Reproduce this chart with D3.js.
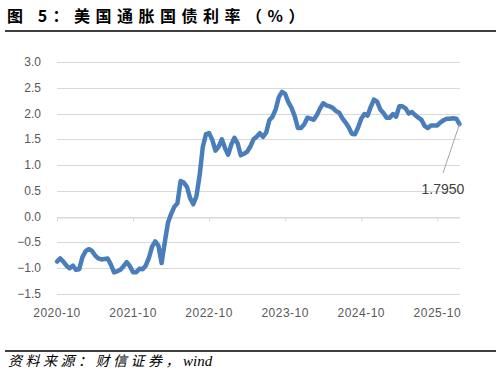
<!DOCTYPE html>
<html>
<head>
<meta charset="utf-8">
<script src="https://cdn.jsdelivr.net/npm/d3@7"></script>
<style>
  body { margin: 0; background: #fff; }
  svg { display: block; }
</style>
</head>
<body>
<script>
// half-month observations starting 2020-10
var values = [
  -0.87, -0.81, -0.87, -0.95, -1.00, -0.95, -1.03, -1.02, -0.79, -0.67,
  -0.63, -0.66, -0.75, -0.81, -0.83, -0.82, -0.81, -0.93, -1.08, -1.06,
  -1.03, -0.96, -0.88, -0.96, -1.08, -1.08, -1.01, -1.02, -0.95, -0.80,
  -0.58, -0.48, -0.56, -0.90, -0.50, -0.12, 0.05, 0.19, 0.26, 0.69,
  0.66, 0.58, 0.36, 0.24, 0.40, 0.80, 1.35, 1.60, 1.62, 1.49,
  1.28, 1.36, 1.50, 1.33, 1.20, 1.40, 1.53, 1.42, 1.19, 1.22,
  1.26, 1.36, 1.50, 1.55, 1.62, 1.55, 1.63, 1.87, 1.94, 2.08,
  2.32, 2.42, 2.38, 2.22, 2.11, 1.95, 1.72, 1.72, 1.79, 1.92,
  1.90, 1.88, 1.97, 2.10, 2.20, 2.16, 2.14, 2.11, 2.05, 2.02,
  1.91, 1.83, 1.74, 1.61, 1.60, 1.73, 1.90, 1.99, 1.96, 2.13,
  2.27, 2.23, 2.08, 2.01, 1.92, 1.92, 1.99, 1.94, 2.14, 2.14,
  2.10, 2.00, 2.03, 1.97, 1.92, 1.88, 1.76, 1.72, 1.77, 1.77,
  1.77, 1.83, 1.87, 1.90, 1.90, 1.91, 1.90, 1.795
];
var tickIndex = [0, 24, 48, 72, 96, 120];
var tickLabels = ["2020-10", "2021-10", "2022-10", "2023-10", "2024-10", "2025-10"];
var yTicks = [-1.5, -1.0, -0.5, 0.0, 0.5, 1.0, 1.5, 2.0, 2.5, 3.0];
var lastLabel = "1.7950";

var W = 501, H = 375;
var svg = d3.select("body").append("svg")
    .attr("width", W)
    .attr("height", H);
svg.append("rect").attr("width", W).attr("height", H).attr("fill", "#fff");

// title + rules
svg.append("text")
    .attr("x", 7)
    .attr("y", 22)
    .attr("font-family", "'Noto Sans CJK SC', sans-serif")
    .attr("font-weight", "bold")
    .attr("font-size", 16)
    .attr("letter-spacing", 5.5)
    .attr("fill", "#000")
    .text("图 5：美国通胀国债利率（%）");
svg.append("line")
    .attr("x1", 5).attr("x2", 496)
    .attr("y1", 31).attr("y2", 31)
    .attr("stroke", "#000").attr("stroke-width", 1.5);
svg.append("line")
    .attr("x1", 5).attr("x2", 496)
    .attr("y1", 351).attr("y2", 351)
    .attr("stroke", "#000").attr("stroke-width", 1.5);
var src = svg.append("text")
    .attr("x", 8)
    .attr("y", 366)
    .attr("font-family", "'Liberation Serif', 'Noto Sans CJK SC', serif")
    .attr("font-style", "italic")
    .attr("font-size", 14)
    .attr("fill", "#000");
src.append("tspan").attr("letter-spacing", 3.5).text("资料来源：财信证券，");
src.append("tspan").attr("font-size", 15).text("wind");

var x = d3.scaleLinear()
    .domain([0, 127])
    .range([57, 459.5]);
var y = d3.scaleLinear()
    .domain([-1.5, 3.0])
    .range([294, 62]);

// grid
svg.append("g")
    .selectAll("line")
    .data(yTicks)
    .enter()
    .append("line")
    .attr("x1", 57).attr("x2", 460)
    .attr("y1", function (d) { return Math.round(y(d)) + 0.5; })
    .attr("y2", function (d) { return Math.round(y(d)) + 0.5; })
    .attr("stroke", "#d9d9d9")
    .attr("stroke-width", 1);

// y labels
svg.append("g")
    .selectAll("text")
    .data(yTicks)
    .enter()
    .append("text")
    .attr("x", 41)
    .attr("y", function (d) { return y(d) + 4; })
    .attr("text-anchor", "end")
    .attr("font-family", "'Liberation Sans', sans-serif")
    .attr("font-size", 12)
    .attr("fill", "#595959")
    .text(function (d) { return d3.format(".1f")(d); });

// x axis on the zero line
var xAxis = d3.axisBottom(x)
    .tickValues(tickIndex)
    .tickFormat(function (d, i) { return tickLabels[i]; })
    .tickSize(4)
    .tickSizeOuter(0);
var gx = svg.append("g")
    .attr("transform", "translate(0," + (Math.round(y(0)) + 0.5) + ")")
    .call(xAxis);
gx.select(".domain").attr("stroke", "#d9d9d9");
gx.selectAll(".tick line").attr("stroke", "#d9d9d9");
gx.selectAll(".tick text").remove();

svg.append("g")
    .selectAll("text")
    .data(tickIndex)
    .enter()
    .append("text")
    .attr("x", function (d) { return x(d); })
    .attr("y", 317)
    .attr("text-anchor", "middle")
    .attr("font-family", "'Liberation Sans', sans-serif")
    .attr("font-size", 12)
    .attr("letter-spacing", 0.5)
    .attr("fill", "#595959")
    .text(function (d, i) { return tickLabels[i]; });

// series
var line = d3.line()
    .x(function (d, i) { return x(i); })
    .y(function (d) { return y(d); });
svg.append("path")
    .datum(values)
    .attr("d", line)
    .attr("fill", "none")
    .attr("stroke", "#4a7ebb")
    .attr("stroke-width", 4.5)
    .attr("stroke-linejoin", "round")
    .attr("stroke-linecap", "round");

// last value callout
var lastI = values.length - 1;
svg.append("line")
    .attr("x1", x(lastI)).attr("y1", y(values[lastI]))
    .attr("x2", 443).attr("y2", 173)
    .attr("stroke", "#a6a6a6")
    .attr("stroke-width", 1);
svg.append("text")
    .attr("x", 443)
    .attr("y", 194)
    .attr("text-anchor", "middle")
    .attr("font-family", "'Liberation Sans', sans-serif")
    .attr("font-size", 14)
    .attr("fill", "#404040")
    .text(lastLabel);
</script>
</body>
</html>
